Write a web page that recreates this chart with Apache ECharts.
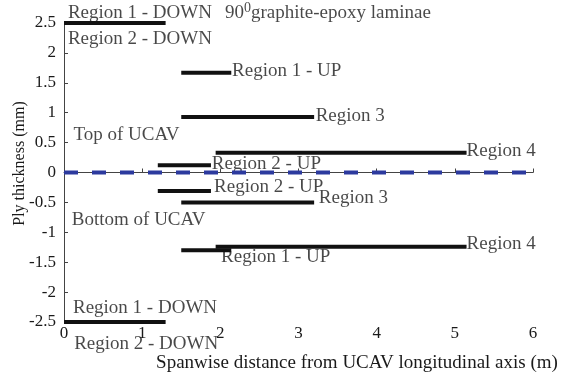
<!DOCTYPE html>
<html>
<head>
<meta charset="utf-8">
<script src="https://cdn.jsdelivr.net/npm/echarts@6/dist/echarts.min.js"></script>
<style>html,body{margin:0;padding:0;background:#fff}#c{width:576px;height:376px}</style>
</head>
<body>
<div id="c"></div>
<script>
// Ply segments (spanwise start/end in m, thickness in mm)
var segStart = [0, 1.5, 1.5, 1.94, 1.2, 1.2, 1.5, 1.94, 1.5, 0];
var segEnd   = [1.3, 2.14, 3.2, 5.15, 1.88, 1.88, 3.2, 5.15, 2.14, 1.3];
var segY     = [2.5, 1.67, 0.93, 0.33, 0.12, -0.31, -0.5, -1.24, -1.3, -2.5];
// Mid-plane reference line
var midX = [0, 6];
var midY = [0, 0];
// Annotations
var noteText = ['Region 1 - DOWN', '90{s|0}graphite-epoxy laminae', 'Region 2 - DOWN', 'Region 1 - UP', 'Region 3',
  'Top of UCAV', 'Region 4', 'Region 2 - UP', 'Region 2 - UP', 'Region 3', 'Bottom of UCAV', 'Region 4',
  'Region 1 - UP', 'Region 1 - DOWN', 'Region 2 - DOWN'];
var noteX = [0.05, 2.06, 0.05, 2.15, 3.22, 0.12, 5.15, 1.89, 1.92, 3.26, 0.10, 5.15, 2.01, 0.115, 0.13];
var noteY = [2.67, 2.67, 2.23, 1.70, 0.95, 0.63, 0.36, 0.145, -0.24, -0.42, -0.79, -1.19, -1.41, -2.26, -2.86];
var xTicks = [0, 1, 2, 3, 4, 5, 6];
var yTicks = [-2.5, -2, -1.5, -1, -0.5, 0, 0.5, 1, 1.5, 2, 2.5];

var FONT = '"Liberation Serif", "Times New Roman", serif';
var series = [];
for (var i = 0; i < segY.length; i++) {
  series.push({
    type: 'line', symbol: 'none', silent: true, animation: false,
    lineStyle: { color: '#111', width: 4 },
    data: [[segStart[i], segY[i]], [segEnd[i], segY[i]]]
  });
}
series.push({
  type: 'line', symbol: 'none', silent: true, animation: false,
  lineStyle: { color: '#2c3a9e', width: 4, type: [14, 14] },
  data: midX.map(function (x, k) { return [x, midY[k]]; })
});
series.push({
  type: 'scatter', symbolSize: 0, silent: true, animation: false, clip: false,
  data: noteText.map(function (t, k) { return { value: [noteX[k], noteY[k]], name: t }; }),
  label: {
    show: true, position: 'inside', align: 'left', verticalAlign: 'middle',
    fontFamily: FONT, fontSize: 19, color: '#1a1a1a',
    formatter: function (p) { return p.name; },
    rich: { s: { fontFamily: FONT, fontSize: 14, color: '#1a1a1a', verticalAlign: 'top', padding: [0, 0, 10, 0] } }
  }
});

var chart = echarts.init(document.getElementById('c'), null, { renderer: 'canvas' });
chart.setOption({
  backgroundColor: '#fff',
  animation: false,
  grid: { left: 64, right: 43, top: 23, bottom: 54, containLabel: false, outerBoundsMode: 'none' },
  xAxis: {
    type: 'value', min: 0, max: 6, interval: 1,
    name: 'Spanwise distance from UCAV longitudinal axis (m)',
    nameLocation: 'middle', nameGap: 32,
    nameTextStyle: { fontFamily: FONT, fontSize: 19, color: '#1a1a1a', padding: [0, 0, 0, 117] },
    axisLine: { show: true, lineStyle: { color: '#444', width: 1 } },
    axisTick: { show: true, inside: true, length: 4, lineStyle: { color: '#444' } },
    axisLabel: { fontFamily: FONT, fontSize: 17, color: '#1a1a1a', margin: 3,
      formatter: function (v) { return xTicks.indexOf(v) >= 0 ? String(v) : ''; } },
    splitLine: { show: false }
  },
  yAxis: {
    type: 'value', min: -2.5, max: 2.5, interval: 0.5,
    name: 'Ply thickness (mm)', nameLocation: 'middle', nameGap: 36, nameRotate: 90,
    nameMoveOverlap: false,
    nameTextStyle: { fontFamily: FONT, fontSize: 16, color: '#1a1a1a', padding: [0, 0, 0, 18] },
    axisLine: { show: true, lineStyle: { color: '#444', width: 1 } },
    axisTick: { show: true, inside: true, length: 4, lineStyle: { color: '#444' } },
    axisLabel: { fontFamily: FONT, fontSize: 17, color: '#1a1a1a', margin: 8,
      formatter: function (v) { return yTicks.indexOf(v) >= 0 ? String(v) : ''; } },
    splitLine: { show: false }
  },
  series: series
});
</script>
</body>
</html>
